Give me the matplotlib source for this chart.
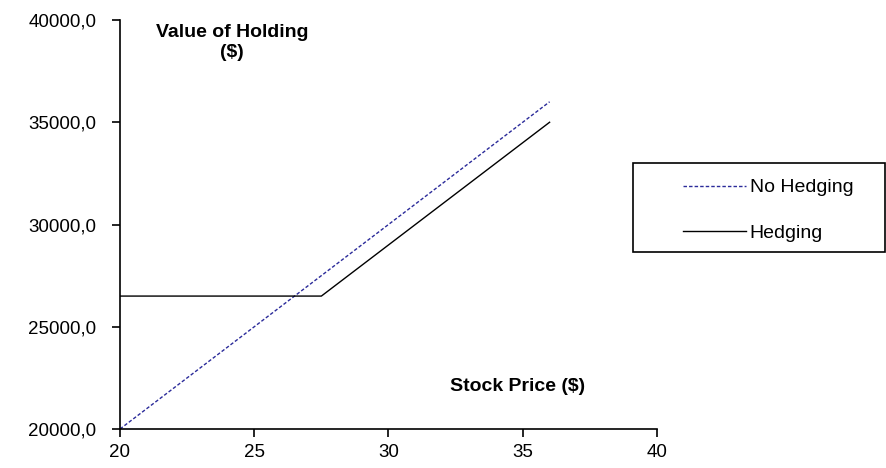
import matplotlib.pyplot as plt
from matplotlib.patches import Rectangle
from matplotlib.ticker import FuncFormatter

plt.rcParams['font.family'] = ['Liberation Sans', 'DejaVu Sans']

# stock price ($) and value of holding ($)
price_no_hedge = [20, 36]
value_no_hedge = [20000, 36000]

price_hedge = [20, 25, 27.5, 30, 35, 36]
value_hedge = [26500, 26500, 26500, 29000, 34000, 35000]

x_ticks = [20, 25, 30, 35, 40]
y_ticks = [20000, 25000, 30000, 35000, 40000]

fig = plt.figure(figsize=(8.87, 4.68), dpi=100)
ax = fig.add_axes([120/887, 1 - 429/468, (657 - 120)/887, (429 - 20)/468])

ax.plot(price_no_hedge, value_no_hedge, color='#2b2b9a', lw=1.0,
        linestyle=(0, (2.5, 1.5)), label='No Hedging')
ax.plot(price_hedge, value_hedge, color='black', lw=1.0, label='Hedging')

ax.set_xlim(20, 40)
ax.set_ylim(20000, 40000)
ax.set_xticks(x_ticks)
ax.set_yticks(y_ticks)
ax.yaxis.set_major_formatter(FuncFormatter(lambda v, p: f"{v:.1f}".replace('.', ',')))
ax.tick_params(labelsize=13.5, length=6, width=1.2, direction='out')
ax.tick_params(axis='y', pad=11)
ax.tick_params(axis='x', pad=5)
for s in ['top', 'right']:
    ax.spines[s].set_visible(False)
for s in ['left', 'bottom']:
    ax.spines[s].set_linewidth(1.2)

ax.text(0.209, 0.99, 'Value of Holding\n($)', transform=ax.transAxes, ha='center',
        va='top', fontsize=14, fontweight='bold', linespacing=1.25)
ax.text(0.741, 0.103, 'Stock Price ($)', transform=ax.transAxes, ha='center',
        va='center', fontsize=14, fontweight='bold')

# legend box sits outside the axes on the right
fig.patches.append(Rectangle((633/887, 1 - 252/468), 252/887, 89/468,
                             transform=fig.transFigure, fill=False,
                             edgecolor='black', lw=1.2))
fig.legend(loc='center left', bbox_to_anchor=(666/887, 1 - 210.5/468),
           frameon=False, fontsize=14, handlelength=3.2, handletextpad=0.2,
           labelspacing=1.45)

fig.savefig('out.png', dpi=100)
